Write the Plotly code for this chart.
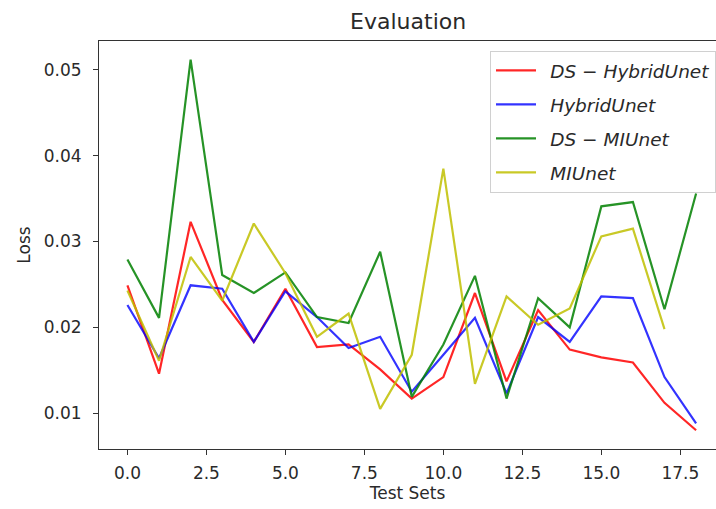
import plotly.graph_objects as go

test_sets = list(range(19))
ds_hybrid = [0.0249, 0.0146, 0.0323, 0.0232, 0.0183, 0.0245, 0.0177, 0.0180, 0.0151, 0.0117,
             0.0142, 0.0240, 0.0137, 0.0220, 0.0174, 0.0165, 0.0159, 0.0112, 0.0080]
hybrid = [0.0226, 0.0164, 0.0249, 0.0245, 0.0183, 0.0242, 0.0212, 0.0176, 0.0189, 0.0125,
          0.0168, 0.0211, 0.0123, 0.0212, 0.0183, 0.0236, 0.0234, 0.0142, 0.0088]
ds_miunet = [0.0279, 0.0211, 0.0512, 0.0261, 0.0240, 0.0264, 0.0212, 0.0205, 0.0288, 0.0119,
             0.0180, 0.0260, 0.0117, 0.0234, 0.0200, 0.0341, 0.0346, 0.0221, 0.0356]
miunet = [0.0243, 0.0161, 0.0282, 0.0231, 0.0321, 0.0263, 0.0189, 0.0216, 0.0105, 0.0168,
          0.0385, 0.0134, 0.0236, 0.0203, 0.0222, 0.0306, 0.0315, 0.0198, None]

names = ["DS − HybridUnet", "HybridUnet", "DS − MIUnet", "MIUnet"]
series = [ds_hybrid, hybrid, ds_miunet, miunet]
colors = ["rgba(255,0,0,0.85)", "rgba(0,0,255,0.8)", "rgba(0,128,0,0.85)", "rgba(191,191,0,0.85)"]

x_ticks = [0, 2.5, 5, 7.5, 10, 12.5, 15, 17.5]
y_ticks = [0.01, 0.02, 0.03, 0.04, 0.05]

fig = go.Figure()
for i, (n, s, c) in enumerate(zip(names, series, colors)):
    fig.add_trace(go.Scatter(x=test_sets, y=s, mode="lines", name="\u2002" + n,
                             line=dict(color=c, width=2.2), legendgroup=str(i)))

font = "DejaVu Sans, sans-serif"
fig.update_layout(
    width=716, height=509,
    margin=dict(l=99, r=0, t=41, b=60),
    paper_bgcolor="white", plot_bgcolor="white",
    font=dict(family=font, size=17, color="#2a2a2a"),
    title=dict(text="Evaluation", x=0.501, xanchor="center", xref="paper",
               y=1 - 21 / 509, yanchor="middle", yref="container",
               font=dict(size=22, color="#2a2a2a")),
    showlegend=True,
    legend=dict(x=0.634, y=0.976, xanchor="left", yanchor="top",
                bgcolor="rgba(255,255,255,0.85)", bordercolor="#d0d0d0", borderwidth=1,
                font=dict(size=18.5, style="italic", color="#2a2a2a"),
                tracegroupgap=7, itemwidth=40, traceorder="grouped"),
)
fig.update_xaxes(range=[-0.9, 18.63], tickvals=x_ticks, tickformat=".1f",
                 showgrid=False, zeroline=False, showline=True, linecolor="#333",
                 linewidth=1, mirror=True, ticks="outside", ticklen=5, tickcolor="#333",
                 ticklabelstandoff=4,
                 title=dict(text="Test Sets", standoff=4, font=dict(size=17)))
fig.update_yaxes(range=[0.00582, 0.05337], tickvals=y_ticks, tickformat=".2f",
                 showgrid=False, zeroline=False, showline=True, linecolor="#333",
                 linewidth=1, mirror=False, ticks="outside", ticklen=5, tickcolor="#333",
                 ticklabelstandoff=8,
                 title=dict(text="Loss", standoff=8, font=dict(size=17)))

fig.write_html("out.html")
